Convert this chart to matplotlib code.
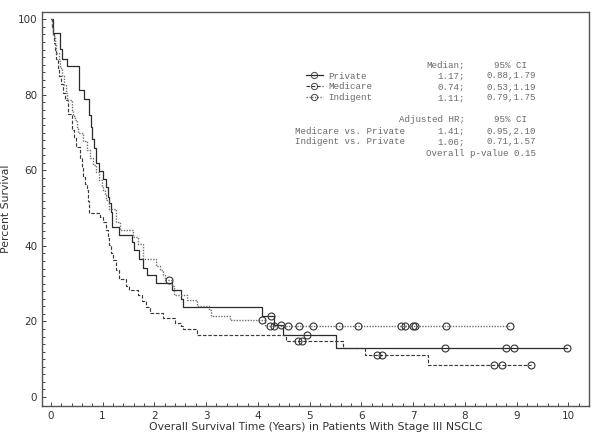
import numpy as np
import matplotlib
matplotlib.use("Agg")
import matplotlib.pyplot as plt
from matplotlib.lines import Line2D

# Kaplan-Meier step data (time in years, percent surviving)
private_t = [0, 0.045, 0.17, 0.21, 0.31, 0.54, 0.65, 0.74, 0.77, 0.79, 0.84, 0.88, 0.93, 1.01,
             1.06, 1.10, 1.13, 1.17, 1.19, 1.31, 1.56, 1.60, 1.71, 1.79, 1.85, 2.03, 2.35, 2.51,
             2.55, 4.07, 4.32, 4.49, 5.51, 9.98]
private_s = [100, 96.3, 92.2, 89.6, 87.6, 81.2, 79.0, 74.7, 71.5, 68.4, 66.0, 62.0, 59.8, 57.7,
             55.6, 53.0, 51.3, 49.0, 45.0, 42.8, 41.0, 38.8, 36.6, 34.1, 32.2, 30.2, 28.2, 26.0,
             23.8, 21.5, 19.1, 16.4, 13.1, 13.1]
private_cens = [4.26, 4.45, 4.95, 7.61, 8.79, 8.94, 9.98]

medicare_t = [0, 0.02, 0.04, 0.06, 0.08, 0.10, 0.13, 0.16, 0.19, 0.24, 0.27, 0.33, 0.40, 0.45,
              0.49, 0.57, 0.60, 0.62, 0.66, 0.69, 0.72, 0.74, 0.96, 1.01, 1.06, 1.10, 1.13, 1.17,
              1.20, 1.26, 1.31, 1.45, 1.52, 1.68, 1.76, 1.84, 1.92, 2.16, 2.40, 2.51, 2.55, 2.83,
              4.54, 5.64, 6.07, 7.29, 9.27]
medicare_s = [100, 98.0, 96.0, 93.8, 91.5, 89.4, 87.0, 85.0, 83.0, 80.5, 78.7, 75.0, 70.7, 68.5,
              66.3, 63.3, 61.0, 58.3, 56.5, 54.8, 52.0, 48.8, 47.7, 46.4, 44.1, 42.0, 40.2, 38.0,
              36.2, 33.5, 31.3, 29.5, 28.2, 26.9, 25.3, 23.8, 22.3, 21.0, 19.6, 18.9, 18.0, 16.4,
              14.9, 13.1, 11.2, 8.4, 8.4]
medicare_cens = [4.77, 4.85, 6.31, 6.39, 8.57, 8.72, 9.27]

indigent_t = [0, 0.02, 0.05, 0.08, 0.11, 0.15, 0.18, 0.21, 0.25, 0.29, 0.31, 0.40, 0.43, 0.46,
              0.50, 0.53, 0.62, 0.69, 0.75, 0.81, 0.88, 0.94, 0.98, 1.01, 1.04, 1.07, 1.13, 1.26,
              1.33, 1.58, 1.68, 1.78, 2.03, 2.10, 2.16, 2.20, 2.35, 2.38, 2.64, 2.83, 3.06, 3.09,
              3.46, 4.13, 8.87]
indigent_s = [100, 98.0, 95.5, 93.5, 91.0, 89.0, 87.0, 85.0, 82.5, 80.5, 78.7, 76.0, 74.5, 73.4,
              71.5, 70.0, 67.7, 65.4, 63.2, 61.4, 59.6, 57.4, 56.0, 54.8, 53.5, 52.1, 49.9, 46.4,
              44.1, 42.4, 40.6, 36.6, 34.8, 33.5, 32.2, 31.0, 29.5, 26.9, 25.8, 24.2, 23.0, 21.5,
              20.3, 18.8, 18.8]
indigent_cens = [2.28, 4.08, 4.23, 4.32, 4.58, 4.80, 5.06, 5.56, 5.94, 6.76, 6.85, 7.00, 7.03,
                 7.64, 8.87]

groups = ["Private", "Medicare", "Indigent"]
medians = ["1.17;", "0.74;", "1.11;"]
median_ci = ["0.88,1.79", "0.53,1.19", "0.79,1.75"]
hr_labels = ["Medicare vs. Private", "Indigent vs. Private"]
hr_values = ["1.41;", "1.06;"]
hr_ci = ["0.95,2.10", "0.71,1.57"]
p_value = "Overall p-value 0.15"

styles = [
    dict(color="#2b2b2b", linestyle="-", linewidth=0.9),
    dict(color="#3a3a3a", linestyle=(0, (3, 1.5)), linewidth=0.85),
    dict(color="#707070", linestyle=(0, (1, 1)), linewidth=1.0),
]
series = [(private_t, private_s, private_cens),
          (medicare_t, medicare_s, medicare_cens),
          (indigent_t, indigent_s, indigent_cens)]


def level_at(t, s, x):
    idx = np.searchsorted(np.array(t), x, side="right") - 1
    return np.array(s)[idx]


fig = plt.figure(figsize=(6, 4.38), dpi=100)
ax = fig.add_axes([0.07, 0.073, 0.912, 0.9])

for (t, s, cens), st in zip(series, styles):
    ax.step(t, s, where="post", **st)
    ax.plot(cens, level_at(t, s, cens), linestyle="none", marker="o", markersize=5,
            markerfacecolor="none", markeredgecolor="#333333", markeredgewidth=0.8)

ax.set_xlim(-0.17, 10.35)
ax.set_ylim(-2.4, 102)
ax.set_xticks(range(0, 11))
ax.set_yticks(range(0, 101, 20))
ax.set_xticks(np.arange(0, 10.41, 0.2), minor=True)
ax.set_yticks(range(0, 101, 2), minor=True)
ax.tick_params(which="both", direction="in", colors="#444444", labelcolor="#333333",
               labelsize=7.5, width=0.7)
ax.tick_params(which="major", length=3)
ax.tick_params(which="minor", length=2)
for sp in ax.spines.values():
    sp.set_color("#555555")
    sp.set_linewidth(1.0)

ax.set_xlabel("Overall Survival Time (Years) in Patients With Stage III NSCLC",
              fontsize=7.8, color="#333333", labelpad=1)
ax.set_ylabel("Percent Survival", fontsize=7.8, color="#333333", labelpad=5)

# annotation block
mono = dict(family="Liberation Mono", fontsize=6.6, color="#6a6a6a")
W, H = 600.0, 438.0


def ftext(x, y, s, ha="left"):
    fig.text(x / W, 1 - y / H, s, ha=ha, va="center", **mono)


handles = [Line2D([0], [0], marker="o", markersize=4.5, markerfacecolor="none",
                  markeredgecolor="#444444", markeredgewidth=0.7, **st) for st in styles]
leg = ax.legend(handles, groups, loc="upper left", bbox_to_anchor=(301 / W, 1 - 67 / H),
                bbox_transform=fig.transFigure, frameon=False, handlelength=1.9,
                handletextpad=0.6, labelspacing=0.2, borderpad=0,
                prop=dict(family="Liberation Mono", size=6.6))
for txt in leg.get_texts():
    txt.set_color("#6a6a6a")

ftext(465, 65, "Median;", ha="right")
ftext(511, 65, "95% CI", ha="center")
for i in range(3):
    y = 76 + 11 * i
    ftext(465, y, medians[i], ha="right")
    ftext(536, y, median_ci[i], ha="right")

ftext(465, 120, "Adjusted HR;", ha="right")
ftext(511, 120, "95% CI", ha="center")
for i in range(2):
    y = 131 + 11 * i
    ftext(295, y, hr_labels[i])
    ftext(465, y, hr_values[i], ha="right")
    ftext(536, y, hr_ci[i], ha="right")
ftext(536, 153, p_value, ha="right")

fig.savefig("out.png", dpi=100)
